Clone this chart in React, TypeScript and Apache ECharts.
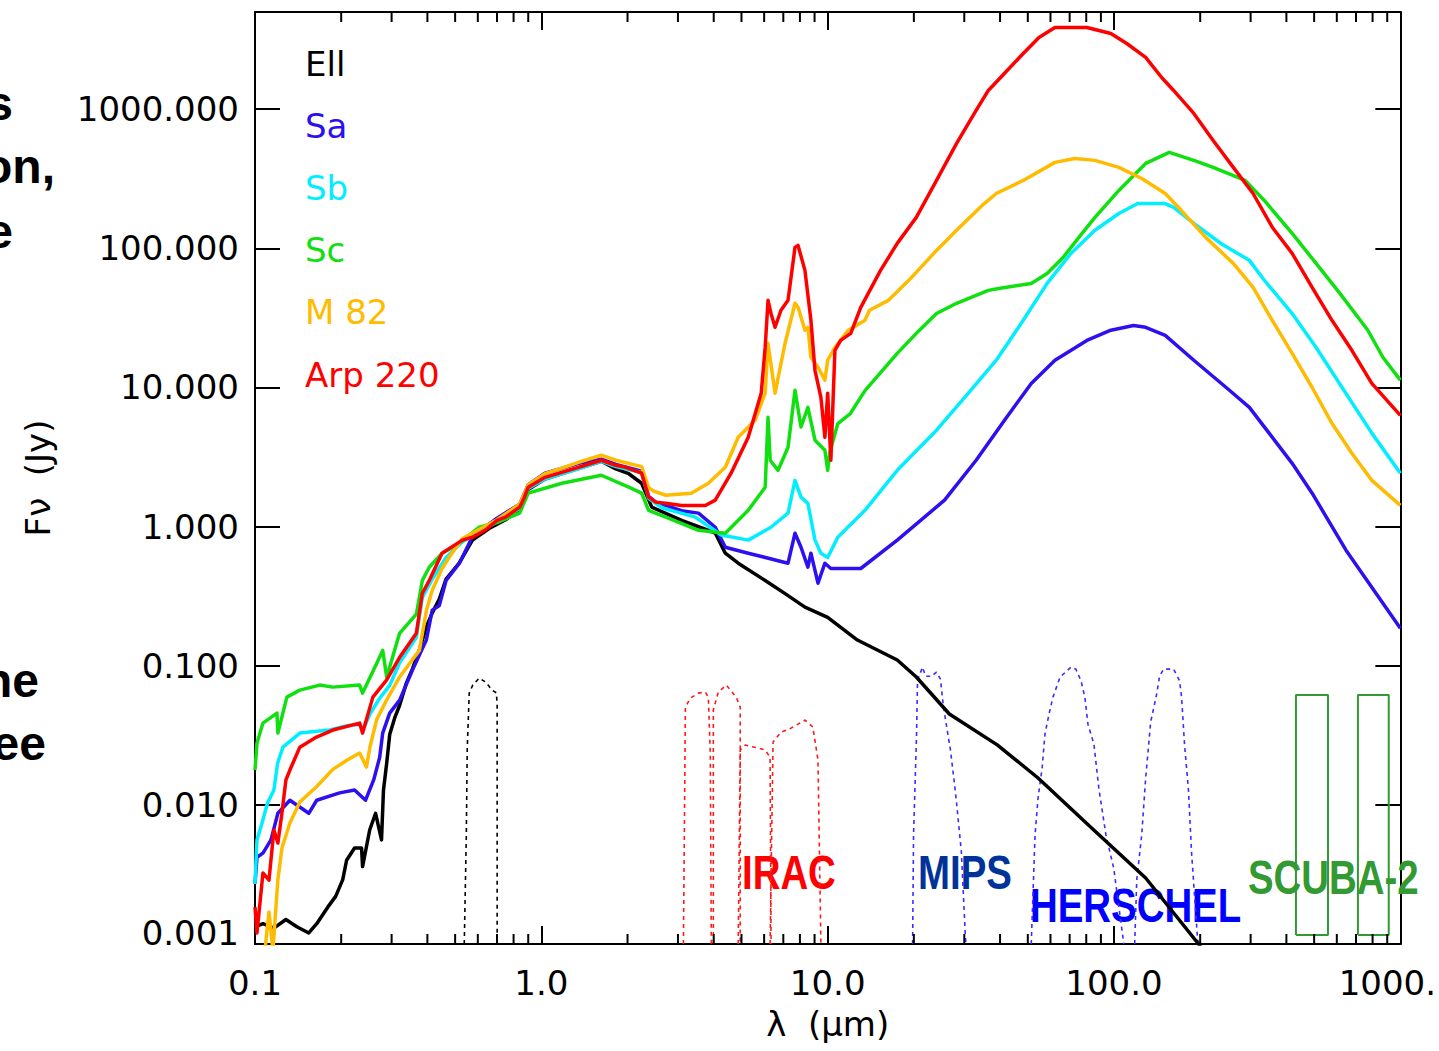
import React, { useEffect, useRef } from 'react';
import * as echarts from 'echarts';

// ---------- axis ranges & tick labels ----------
const X_MIN = 0.1;
const X_MAX = 1000;
const Y_MIN = 0.001;
const Y_MAX = 5000;
const xTickLabels = ['0.1', '1.0', '10.0', '100.0', '1000.'];
const yTickLabels = ['0.001', '0.010', '0.100', '1.000', '10.000', '100.000', '1000.000'];
const minorTickValues = [
  0.2, 0.3, 0.4, 0.5, 0.6, 0.7, 0.8, 0.9,
  2, 3, 4, 5, 6, 7, 8, 9,
  20, 30, 40, 50, 60, 70, 80, 90,
  200, 300, 400, 500, 600, 700, 800, 900,
];

// ---------- SED templates: [wavelength (um), F_nu (Jy)] ----------
const ellSED = [
  [0.1, 0.00133], [0.1066, 0.0014], [0.1164, 0.0013], [0.1282, 0.0015], [0.14, 0.00133], [0.1541, 0.0012],
  [0.1643, 0.0014], [0.1795, 0.00184], [0.1913, 0.0022], [0.2025, 0.0029], [0.2089, 0.004], [0.2227, 0.0049],
  [0.2356, 0.0049], [0.2375, 0.0036], [0.2515, 0.0066], [0.2637, 0.0087], [0.2766, 0.0056], [0.281, 0.0128],
  [0.2884, 0.02], [0.2954, 0.032], [0.3073, 0.042], [0.32, 0.052], [0.3377, 0.075], [0.3547, 0.095],
  [0.375, 0.13], [0.3966, 0.19], [0.4159, 0.24], [0.4398, 0.3], [0.4648, 0.42], [0.5175, 0.55],
  [0.5747, 0.8], [0.657, 0.97], [0.75, 1.12], [0.84, 1.33], [0.9, 1.85], [1.03, 2.2], [1.35, 2.62],
  [1.62, 2.95], [1.82, 2.6], [2.02, 2.4], [2.24, 2.05], [2.43, 1.38], [3.09, 1.11], [4.05, 0.9],
  [4.39, 0.644], [4.87, 0.546], [6.05, 0.41], [7.1, 0.33], [8.33, 0.264], [10, 0.223], [12.7, 0.153],
  [17.5, 0.11], [20.4, 0.083], [26.6, 0.045], [39.1, 0.027], [54.3, 0.0156], [83.7, 0.0068],
  [129, 0.00298], [199, 0.00098], [210, 0.0008],
];

const saSED = [
  [0.1, 0.0027], [0.1016, 0.0042], [0.1066, 0.0045], [0.1137, 0.0056], [0.1202, 0.0087], [0.1324, 0.0108],
  [0.1541, 0.0087], [0.1643, 0.0108], [0.1975, 0.0122], [0.2227, 0.0128], [0.2433, 0.0108], [0.2597, 0.0151],
  [0.2726, 0.022], [0.2792, 0.0328], [0.2954, 0.0457], [0.32, 0.0566], [0.3547, 0.093], [0.3966, 0.153],
  [0.4159, 0.251], [0.4398, 0.27], [0.4648, 0.41], [0.5175, 0.546], [0.575, 0.85], [0.7, 1.15],
  [0.84, 1.45], [0.9, 2.0], [1.03, 2.42], [1.35, 2.85], [1.62, 3.05], [1.82, 2.8], [2.24, 2.5],
  [2.37, 1.65], [2.51, 1.5], [3.09, 1.3], [3.54, 1.25], [4.05, 0.99], [4.39, 0.711], [5.28, 0.644],
  [7.27, 0.546], [7.69, 0.897], [8.07, 0.711], [8.53, 0.511], [8.74, 0.644], [9.25, 0.392], [9.78, 0.546],
  [10.26, 0.5], [13.05, 0.5], [17.5, 0.8], [25.6, 1.55], [33, 3.0], [41.4, 5.8], [51.4, 10.7],
  [62.2, 15.7], [80.4, 21.8], [97.5, 25.8], [117, 27.9], [129, 27.1], [151, 23.7], [190, 15.7],
  [253, 9.55], [297, 7.2], [348, 4.7], [419, 2.85], [492, 1.74], [646, 0.677], [1000, 0.186],
];

const sbSED = [
  [0.1, 0.0027], [0.1016, 0.0056], [0.106, 0.0075], [0.1106, 0.0103], [0.1164, 0.0128], [0.12, 0.02],
  [0.1252, 0.026], [0.1434, 0.0328], [0.1823, 0.0345], [0.21, 0.037], [0.2319, 0.038], [0.2375, 0.034],
  [0.252, 0.045], [0.272, 0.058], [0.295, 0.072], [0.32, 0.105], [0.366, 0.16], [0.384, 0.31],
  [0.416, 0.42], [0.465, 0.6], [0.53, 0.78], [0.7, 1.08], [0.84, 1.35], [0.9, 1.88], [1.03, 2.2],
  [1.35, 2.6], [1.62, 2.95], [1.82, 2.7], [2.24, 2.45], [2.37, 1.6], [2.65, 1.36], [3.45, 1.17],
  [4.25, 0.87], [5.28, 0.8], [6.34, 0.99], [7.27, 1.25], [7.69, 2.15], [8.07, 1.63], [8.53, 1.47],
  [9.03, 0.8], [9.47, 0.644], [10, 0.6], [10.85, 0.84], [13.5, 1.31], [17.5, 2.54], [24, 4.93],
  [31, 9.1], [38.8, 15.7], [48.2, 30.4], [58.4, 56], [70.7, 92], [85.8, 135], [104, 178], [121, 210],
  [151, 210], [161.5, 197], [190, 151], [237, 108], [297, 82], [335, 59], [419, 34], [508, 19.4],
  [635, 9.55], [795, 4.7], [1000, 2.42],
];

const scSED = [
  [0.1, 0.0178], [0.1016, 0.0278], [0.1066, 0.0387], [0.1193, 0.0457], [0.1202, 0.0328], [0.1292, 0.0595],
  [0.1434, 0.0668], [0.1683, 0.0726], [0.1868, 0.0702], [0.2319, 0.0726], [0.2375, 0.0636], [0.266, 0.104],
  [0.2792, 0.129], [0.2884, 0.0828], [0.3198, 0.171], [0.3661, 0.235], [0.3841, 0.41], [0.406, 0.511],
  [0.4504, 0.644], [0.5175, 0.76], [0.607, 0.99], [0.7, 1.07], [0.84, 1.25], [0.9, 1.74], [1.18, 2.05],
  [1.62, 2.34], [2.02, 1.92], [2.24, 1.74], [2.37, 1.31], [2.72, 1.17], [3.54, 0.94], [4.39, 0.897],
  [5.28, 1.31], [6.05, 1.92], [6.19, 6.1], [6.3, 3.0], [6.71, 2.54], [7.27, 3.72], [7.69, 9.55],
  [8.07, 5.2], [8.53, 7.2], [9.03, 4.18], [9.78, 3.54], [10.0, 2.54], [10.2, 3.5], [10.85, 5.5],
  [12.0, 6.5], [13.5, 9.5], [17.5, 17.6], [20.4, 24.5], [24, 34], [28.2, 40.3], [36.4, 49.9], [40, 51.6],
  [51.4, 56], [58.4, 66], [66.4, 86], [75.4, 120], [85.8, 167], [104, 261], [129, 408], [156, 490],
  [190, 429], [222, 382], [287, 308], [335, 221], [419, 128], [508, 78], [615, 47.5], [770, 25.8],
  [869, 16.5], [1000, 11.3],
];

const m82SED = [
  [0.1083, 0.0009], [0.1119, 0.0017], [0.1155, 0.0009], [0.1202, 0.0029], [0.1242, 0.0049], [0.1324, 0.0074],
  [0.1434, 0.0105], [0.164, 0.0135], [0.187, 0.018], [0.21, 0.021], [0.232, 0.0236], [0.245, 0.0187],
  [0.252, 0.026], [0.266, 0.041], [0.288, 0.0566], [0.32, 0.083], [0.375, 0.129], [0.397, 0.25],
  [0.416, 0.35], [0.45, 0.5], [0.476, 0.6], [0.53, 0.82], [0.7, 1.12], [0.84, 1.45], [0.9, 2.0],
  [1.03, 2.4], [1.35, 2.9], [1.62, 3.26], [1.82, 3.0], [2.24, 2.7], [2.37, 1.9], [2.47, 1.8], [2.72, 1.68],
  [3.34, 1.74], [3.83, 2.05], [4.39, 2.67], [4.87, 4.39], [5.58, 5.81], [6.05, 9.1], [6.19, 20.8],
  [6.55, 9.1], [7.1, 20.8], [7.69, 40.3], [7.88, 37.7], [8.33, 25.8], [8.53, 27.1], [8.74, 16.5],
  [9.25, 14], [9.78, 11.3], [10, 15.7], [10.6, 19.4], [11.8, 25.8], [13.5, 30.4], [14, 35.9], [16.3, 42.3],
  [19.2, 58.9], [24, 96.7], [28.2, 135], [35.2, 210], [38.8, 248], [48.2, 308], [62.2, 415], [73, 443],
  [85.8, 429], [104, 382], [125, 318], [151, 248], [172, 187], [209, 120], [261, 78], [306, 52.5],
  [357, 30.4], [419, 17.6], [492, 10], [577, 5.53], [677, 3.37], [795, 2.15], [1000, 1.42],
];

const arp220SED = [
  [0.1, 0.00184], [0.1016, 0.0012], [0.1066, 0.00324], [0.1119, 0.00288], [0.1164, 0.00659], [0.1202, 0.00532],
  [0.1242, 0.00873], [0.1282, 0.0151], [0.1324, 0.0178], [0.1434, 0.026], [0.164, 0.0307], [0.187, 0.0345],
  [0.232, 0.0387], [0.2375, 0.0328], [0.258, 0.0595], [0.288, 0.0788], [0.32, 0.115], [0.366, 0.171],
  [0.384, 0.332], [0.406, 0.41], [0.45, 0.644], [0.53, 0.8], [0.575, 0.84], [0.64, 0.95], [0.7, 1.11],
  [0.75, 1.17], [0.84, 1.38], [0.87, 1.6], [0.9, 1.92], [1.03, 2.26], [1.35, 2.67], [1.62, 3.0],
  [1.82, 2.76], [1.97, 2.67], [2.24, 2.42], [2.37, 1.63], [2.51, 1.5], [2.72, 1.47], [3.09, 1.42],
  [3.74, 1.42], [4.05, 1.55], [4.6, 2.42], [5.28, 4.39], [5.86, 9.1], [6.05, 19.4], [6.19, 42.3],
  [6.34, 34.1], [6.55, 27.1], [6.87, 35.9], [7.27, 42.3], [7.69, 101.7], [7.88, 105], [8.33, 69.5],
  [8.74, 30.4], [9.03, 13.3], [9.47, 8.5], [9.78, 4.39], [10, 9.1], [10.26, 3.0], [10.6, 18.5],
  [11.1, 21.8], [12.04, 24.5], [13.05, 37.7], [15.3, 69.5], [17.5, 108.6], [20.4, 167], [24, 308],
  [28.2, 568], [33, 980], [36.4, 1365], [41.4, 1808], [48.2, 2518], [54.7, 3280], [62.2, 3870],
  [80.4, 3870], [97.5, 3504], [110.8, 2970], [129, 2356], [146.7, 1692], [161.5, 1365], [190, 933],
  [222, 597], [261, 382], [306, 248], [357, 142], [419, 92], [492, 52.5], [577, 30.4], [677, 18.5],
  [795, 10.7], [1000, 6.3],
];

// ---------- filter transmission curves (arbitrary scaling) ----------
const opticalFilter = [
  [0.538, 0.001], [0.547, 0.006], [0.551, 0.025], [0.56, 0.0636], [0.576, 0.0726], [0.607, 0.0815],
  [0.641, 0.076], [0.673, 0.0668], [0.696, 0.064], [0.701, 0.0536], [0.701, 0.001],
];
const irac1 = [[3.135, 0.001], [3.185, 0.0504], [3.315, 0.0585], [3.536, 0.0636], [3.738, 0.0646], [3.83, 0.0595], [3.891, 0.0236], [3.923, 0.001]];
const irac2 = [[3.987, 0.001], [3.987, 0.048], [4.15, 0.0646], [4.424, 0.0726], [4.793, 0.0595], [4.95, 0.0504], [4.95, 0.001]];
const irac3 = [[4.871, 0.001], [4.95, 0.0248], [5.152, 0.0269], [5.718, 0.0256], [6.046, 0.0248], [6.293, 0.022], [6.344, 0.001]];
const irac4 = [[6.293, 0.001], [6.447, 0.0283], [6.87, 0.0333], [7.447, 0.0356], [8.33, 0.0407], [8.88, 0.0362], [9.25, 0.021], [9.47, 0.001]];
const mips24 = [
  [19.8, 0.001], [19.95, 0.0061], [20.44, 0.0323], [20.6, 0.0788], [21.44, 0.0977], [21.97, 0.0841],
  [23.05, 0.0841], [23.99, 0.0899], [24.77, 0.0801], [25.38, 0.0504], [26.84, 0.0248], [27.71, 0.0143],
  [28.16, 0.0106], [29.3, 0.0046], [30.26, 0.00114], [30.4, 0.001],
];
const herschel70 = [
  [51.4, 0.001], [53.0, 0.0061], [54.3, 0.0112], [56.1, 0.0184], [57.4, 0.0323], [59.3, 0.0449],
  [61.2, 0.0595], [64.8, 0.0828], [70.7, 0.0977], [73.6, 0.0945], [76.7, 0.078], [79.1, 0.0595],
  [81.1, 0.038], [85.1, 0.0273], [88.5, 0.0132], [93.7, 0.0061], [99.8, 0.0035], [108.2, 0.001],
];
const herschel160 = [
  [118.1, 0.001], [120.1, 0.0029], [125, 0.0061], [129, 0.0156], [134.3, 0.0393], [140.9, 0.0625],
  [144.3, 0.0841], [149, 0.0945], [161.5, 0.0945], [169.4, 0.078], [172.2, 0.0595], [176.3, 0.0273],
  [182.1, 0.0126], [186.5, 0.0046], [195.7, 0.0011], [197, 0.001],
];
const scubaBandEdges = [[432, 559], [711, 911]];
const scubaBoxLow = 0.00116;
const scubaBoxHigh = 0.0615;

// ---------- legend / annotation text ----------
const legendNames = ['Ell', 'Sa', 'Sb', 'Sc', 'M 82', 'Arp 220'];
const legendColors = ['#000000', '#2d10f0', '#00eeff', '#10e010', '#ffbb00', '#ff0000'];
const slideFragments = ['s', 'on,', 'e', 'ne', 'ee'];

const AXIS_FONT = 'DejaVu Sans';
const BAND_FONT = 'bold 48px "Liberation Sans", Arial, sans-serif';

function decadeIndex(v: number, offset: number): number {
  const l = Math.log10(v);
  const e = Math.round(l);
  if (Math.abs(l - e) > 1e-6) return -1;
  return e + offset;
}

function xLabel(v: number): string {
  const i = decadeIndex(v, 1);
  if (i < 0 || i >= xTickLabels.length) return '';
  if (i === xTickLabels.length - 1) return '{r|' + xTickLabels[i] + '}';
  return xTickLabels[i];
}

function yLabel(v: number): string {
  const i = decadeIndex(v, 3);
  if (i < 0 || i >= yTickLabels.length) return '';
  if (i === 0) return '{b|' + yTickLabels[i] + '}';
  return yTickLabels[i];
}

function sedLine(name: string, data: number[][], color: string) {
  return {
    type: 'line', name, data, showSymbol: false, symbol: 'none', clip: true, silent: true,
    lineStyle: { color, width: 3.5, join: 'round' }, itemStyle: { color }, z: 3,
  };
}

function filterLine(name: string, data: number[][], color: string) {
  return {
    type: 'line', name, data, showSymbol: false, symbol: 'none', clip: true, silent: true,
    lineStyle: { color, width: 1.6, type: [4, 4] }, itemStyle: { color }, z: 2,
  };
}

function scubaBox(i: number) {
  const [lo, hi] = scubaBandEdges[i];
  const data = [[lo, scubaBoxLow], [lo, scubaBoxHigh], [hi, scubaBoxHigh], [hi, scubaBoxLow], [lo, scubaBoxLow]];
  return {
    type: 'line', name: 'SCUBA-2 ' + (i + 1), data, showSymbol: false, symbol: 'none', clip: true, silent: true,
    lineStyle: { color: '#339933', width: 2 }, itemStyle: { color: '#339933' }, z: 2,
  };
}

function buildOption() {
  const axisLabelStyle = { fontFamily: AXIS_FONT, fontSize: 34, color: '#000' };
  const logX = {
    type: 'log', logBase: 10, min: X_MIN, max: X_MAX, splitLine: { show: false },
    axisLine: { show: true, onZero: false, lineStyle: { color: '#000', width: 2 } },
    axisTick: { show: true, inside: true, length: 18, lineStyle: { color: '#000', width: 2 } },
  };
  const logY = {
    type: 'log', logBase: 10, min: Y_MIN, max: Y_MAX, splitLine: { show: false },
    axisLine: { show: true, onZero: false, lineStyle: { color: '#000', width: 2 } },
    axisTick: { show: true, inside: true, length: 25, lineStyle: { color: '#000', width: 2 } },
  };

  const graphics: any[] = [];
  legendNames.forEach((n, i) => {
    graphics.push({
      type: 'text', x: 305, y: 64 + i * 62.1, z: 50,
      style: { text: n, fill: legendColors[i], font: '34px "DejaVu Sans"', textVerticalAlign: 'middle' },
    });
  });
  const bandLabels = [
    { text: 'IRAC', color: '#ff0000', x: 742, y: 872 },
    { text: 'MIPS', color: '#003399', x: 918, y: 872 },
    { text: 'HERSCHEL', color: '#0000ff', x: 1030, y: 905 },
    { text: 'SCUBA-2', color: '#339933', x: 1248, y: 877 },
  ];
  bandLabels.forEach((b) => {
    graphics.push({
      type: 'text', x: b.x, y: b.y, scaleX: 0.8, z: 1,
      style: { text: b.text, fill: b.color, font: BAND_FONT, textVerticalAlign: 'middle' },
    });
  });
  const fragRight = [13, 55, 13, 39, 46];
  const fragY = [103, 166, 231, 680, 743];
  slideFragments.forEach((t, i) => {
    graphics.push({
      type: 'text', x: fragRight[i], y: fragY[i], z: 50,
      style: { text: t, fill: '#000', font: BAND_FONT, textAlign: 'right', textVerticalAlign: 'middle' },
    });
  });

  return {
    animation: false,
    backgroundColor: '#ffffff',
    grid: { left: 255, right: 35, top: 12, bottom: 107, containLabel: false },
    xAxis: [
      {
        ...logX, position: 'bottom',
        name: 'λ  (μm)', nameLocation: 'middle', nameGap: 63,
        nameTextStyle: { ...axisLabelStyle },
        axisLabel: {
          ...axisLabelStyle, margin: 22, formatter: xLabel,
          rich: { r: { ...axisLabelStyle, padding: [0, 26, 0, 0] } },
        },
      },
      { ...logX, position: 'top', axisLabel: { show: false } },
    ],
    yAxis: [
      {
        ...logY, position: 'left',
        name: 'Fν  (Jy)', nameLocation: 'middle', nameGap: 200,
        nameTextStyle: { ...axisLabelStyle },
        axisLabel: {
          ...axisLabelStyle, margin: 16, formatter: yLabel,
          rich: { b: { ...axisLabelStyle, padding: [0, 0, 22, 0] } },
        },
      },
      { ...logY, position: 'right', axisLabel: { show: false } },
    ],
    graphic: graphics,
    series: [
      filterLine('Optical filter', opticalFilter, '#000000'),
      filterLine('IRAC 3.6', irac1, '#ff1a1a'),
      filterLine('IRAC 4.5', irac2, '#ff1a1a'),
      filterLine('IRAC 5.8', irac3, '#ff1a1a'),
      filterLine('IRAC 8.0', irac4, '#ff1a1a'),
      filterLine('MIPS 24', mips24, '#3a2cff'),
      filterLine('PACS 70', herschel70, '#3a2cff'),
      filterLine('PACS 160', herschel160, '#3a2cff'),
      scubaBox(0),
      scubaBox(1),
      sedLine('Ell', ellSED, legendColors[0]),
      sedLine('Sa', saSED, legendColors[1]),
      sedLine('Sb', sbSED, legendColors[2]),
      sedLine('Sc', scSED, legendColors[3]),
      sedLine('M 82', m82SED, legendColors[4]),
      sedLine('Arp 220', arp220SED, legendColors[5]),
      {
        type: 'custom', name: 'minor ticks', silent: true, clip: false, z: 10,
        data: minorTickValues.map((v) => [v, Y_MIN]),
        renderItem: (params: any, api: any) => {
          const x = api.value(0);
          const b = api.coord([x, Y_MIN]);
          const t = api.coord([x, Y_MAX]);
          return {
            type: 'group',
            children: [
              { type: 'line', shape: { x1: b[0], y1: b[1], x2: b[0], y2: b[1] - 10 }, style: { stroke: '#000', lineWidth: 2 } },
              { type: 'line', shape: { x1: t[0], y1: t[1], x2: t[0], y2: t[1] + 10 }, style: { stroke: '#000', lineWidth: 2 } },
            ],
          };
        },
      },
    ],
  };
}

export default function App() {
  const ref = useRef<HTMLDivElement>(null);
  useEffect(() => {
    if (!ref.current) return;
    const chart = echarts.init(ref.current, null, { renderer: 'svg' });
    chart.setOption(buildOption() as any);
    return () => chart.dispose();
  }, []);
  return (
    <div
      ref={ref}
      style={{ position: 'fixed', left: 0, top: 0, width: 1439, height: 1051, background: '#ffffff' }}
    />
  );
}
